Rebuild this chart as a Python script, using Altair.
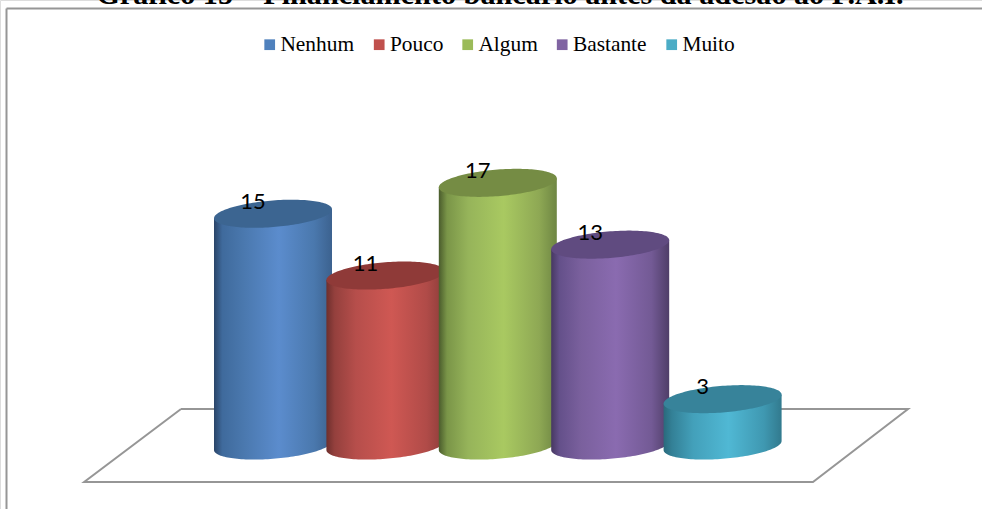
import math
import altair as alt
import pandas as pd

# Survey answers and their counts
categories = ["Nenhum", "Pouco", "Algum", "Bastante", "Muito"]
counts = [15, 11, 17, 13, 3]

# Colours per answer: legend swatch, horizontal side shading, cylinder top
base_colors = ["#4f81bd", "#c0504d", "#9bbb59", "#8064a2", "#4bacc6"]
side_shades = [
    ["#2a4468", "#3f6a9c", "#4a78ae", "#5b8ccd", "#4a78ad", "#3c628f"],
    ["#6e2f2d", "#94403d", "#b64e4b", "#cf5853", "#b04b48", "#8c3d3a"],
    ["#4a5c2c", "#7a9548", "#96b45a", "#a9c961", "#8ea854", "#6e8643"],
    ["#473862", "#64508a", "#7a609d", "#8a6bb0", "#735a95", "#4f3e68"],
    ["#2a6a7c", "#338096", "#43a0ba", "#50b8d4", "#3f98b1", "#327a8e"],
]
shade_offsets = [0, 0.07, 0.25, 0.55, 0.85, 1]
top_colors = ["#3c6591", "#8f3a38", "#758c44", "#604b80", "#37839a"]

TITLE = "Gráfico 15 – Financiamento bancário antes da adesão ao P.A.I."
W, H = 982, 509

# Pixel calibration of the two linear scales
X0_PX, STEP_PX = 273.0, 112.4
Y0_PX, UNIT_PX = 445.5, 15.45
x_domain = [-X0_PX / STEP_PX, (W - X0_PX) / STEP_PX]
y_domain = [(Y0_PX - H) / UNIT_PX, Y0_PX / UNIT_PX]
x_scale = alt.Scale(domain=x_domain, nice=False, zero=False)
y_scale = alt.Scale(domain=y_domain, nice=False, zero=False)

# Cylinder proportions in scale units
HALF_W = 59.0 / STEP_PX
RY = 13.3 / UNIT_PX
TILT = 4.5 / UNIT_PX


def ellipse_rows(index, value):
    """Outline of one cylinder: the side surface and the tilted top ellipse."""
    rows = []
    n = 72
    for k in range(n + 1):
        u = -math.cos(math.pi * k / n)
        root = math.sqrt(max(0.0, 1 - u * u))
        rows.append(
            dict(
                x=index + HALF_W * u,
                top_hi=value + TILT * u + RY * root,
                top_lo=value + TILT * u - RY * root,
                side_hi=value + TILT * u,
                side_lo=TILT * u - RY * root,
            )
        )
    return rows


def axisless(field, scale):
    return alt.Y(field, type="quantitative", scale=scale, axis=None)


layers = []

# Small swatch carriers hidden behind the bodies; they feed the colour legend
legend_df = pd.DataFrame(
    {"resposta": categories, "i": list(range(5)), "v": [c / 2 for c in counts]}
)
layers.append(
    alt.Chart(legend_df)
    .mark_square(size=4, filled=True, opacity=1)
    .encode(
        x=alt.X("i:Q", scale=x_scale, axis=None),
        y=alt.Y("v:Q", scale=y_scale, axis=None),
        color=alt.Color(
            "resposta:N",
            sort=categories,
            scale=alt.Scale(domain=categories, range=base_colors),
            legend=alt.Legend(
                title=None,
                orient="none",
                legendX=259,
                legendY=34,
                direction="horizontal",
                columns=5,
                gridAlign="none",
                columnPadding=13.5,
                symbolType="square",
                symbolSize=115,
                symbolStrokeWidth=0,
                symbolOpacity=1,
                labelFont="Liberation Serif",
                labelFontSize=21.4,
                labelColor="#000000",
                labelOffset=0,
                labelLimit=200,
            ),
        ),
    )
)

# Floor outline
floor_x = [-0.8185, 5.65, 4.804, -1.68, -0.8185]
floor_y = [2.36, 2.36, -2.36, -2.36, 2.36]
floor_df = pd.DataFrame({"x": floor_x, "y": floor_y, "o": range(5)})
layers.append(
    alt.Chart(floor_df)
    .mark_line(color="#969696", strokeWidth=2, interpolate="linear")
    .encode(
        x=alt.X("x:Q", scale=x_scale, axis=None),
        y=alt.Y("y:Q", scale=y_scale, axis=None),
        order="o:Q",
    )
)

# Cylinders, painted left to right so each one overlaps the previous
for i, (cat, value) in enumerate(zip(categories, counts)):
    shape = pd.DataFrame(ellipse_rows(i, value))
    side_fill = alt.Gradient(
        gradient="linear",
        x1=0,
        x2=1,
        y1=0,
        y2=0,
        stops=[
            alt.GradientStop(offset=o, color=c)
            for o, c in zip(shade_offsets, side_shades[i])
        ],
    )
    chart_x = alt.X("x:Q", scale=x_scale, axis=None)
    layers.append(
        alt.Chart(shape)
        .mark_area(color=side_fill, opacity=1)
        .encode(
            x=chart_x,
            y=axisless("side_hi", y_scale),
            y2=alt.Y2("side_lo"),
        )
    )
    layers.append(
        alt.Chart(shape)
        .mark_area(color=top_colors[i], opacity=1)
        .encode(
            x=chart_x,
            y=axisless("top_hi", y_scale),
            y2=alt.Y2("top_lo"),
        )
    )

# Count labels sit over the upper-left of each cylinder top
label_df = pd.DataFrame({"i": list(range(5)), "v": counts, "t": [str(c) for c in counts]})
layers.append(
    alt.Chart(label_df)
    .mark_text(font="Lato", fontSize=22, color="#000000", dx=-20, dy=-12, baseline="middle")
    .encode(
        x=alt.X("i:Q", scale=x_scale, axis=None),
        y=alt.Y("v:Q", scale=y_scale, axis=None),
        text="t:N",
    )
)

# Chart frame: left and top edges
layers.append(
    alt.Chart(pd.DataFrame({"a": [0]}))
    .mark_rule(color="#969696", strokeWidth=2)
    .encode(x=alt.value(6.5), y=alt.value(8.5), y2=alt.value(H))
)
layers.append(
    alt.Chart(pd.DataFrame({"a": [0]}))
    .mark_rule(color="#969696", strokeWidth=2)
    .encode(x=alt.value(6.5), x2=alt.value(W), y=alt.value(8.5))
)

# Heading, running off the top of the page
layers.append(
    alt.Chart(pd.DataFrame({"t": [TITLE]}))
    .mark_text(
        font="Liberation Serif",
        fontSize=30.2,
        fontWeight="bold",
        color="#000000",
        baseline="alphabetic",
    )
    .encode(x=alt.value(500), y=alt.value(3.5), text="t:N")
)

chart = (
    alt.layer(*layers)
    .properties(width=W, height=H, padding=0, autosize=alt.AutoSizeParams(type="none"))
    .configure_view(stroke=None)
    .configure(background="#ffffff")
)

chart.save("out.html", embed_options={"renderer": "svg", "actions": False})
